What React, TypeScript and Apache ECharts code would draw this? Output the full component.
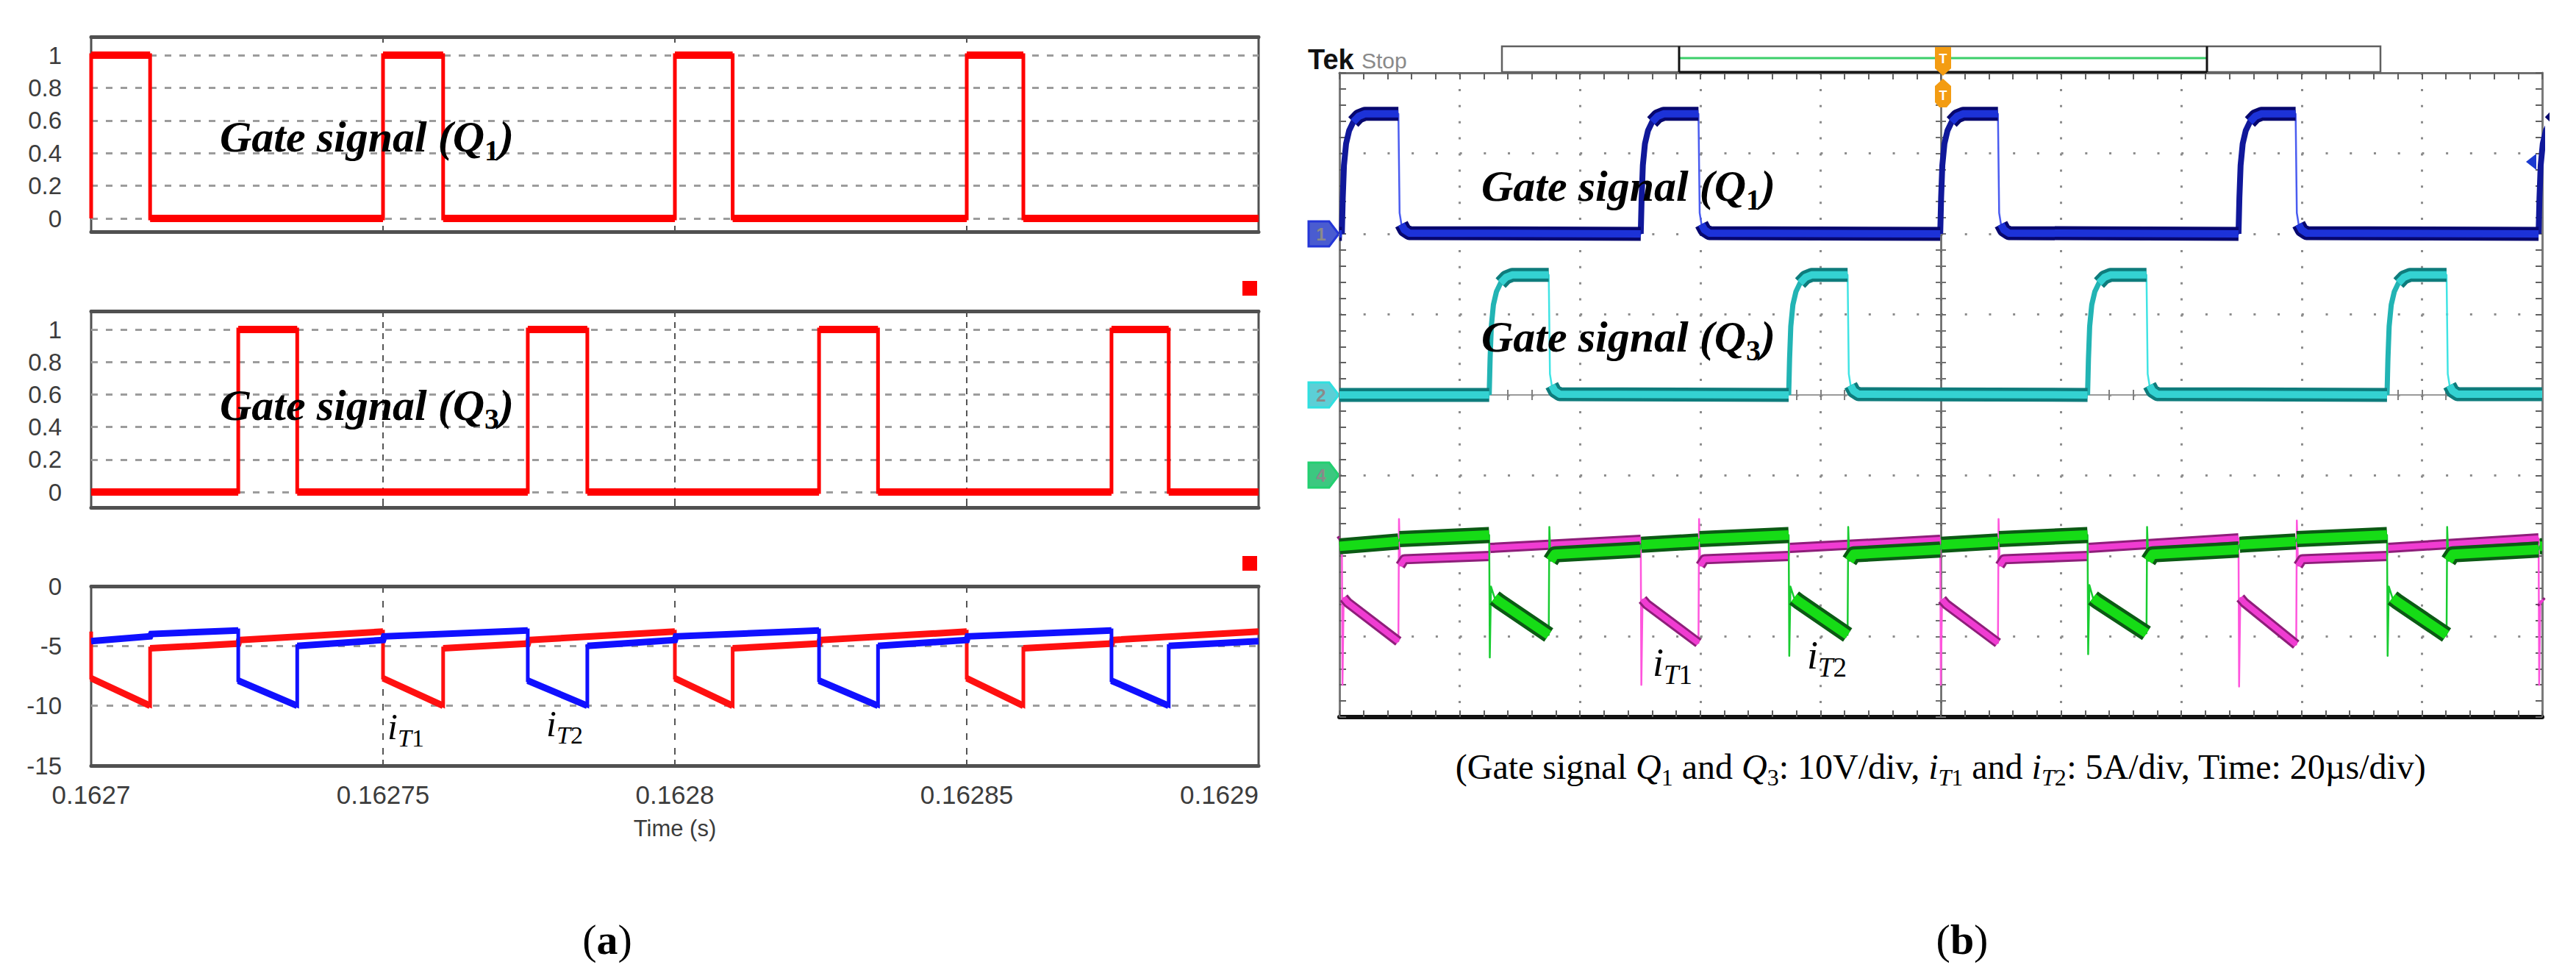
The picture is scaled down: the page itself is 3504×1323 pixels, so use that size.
import React, { useEffect, useRef } from 'react';
import * as echarts from 'echarts';

// ===================== DATA: (a) simulation =====================
const simTimeTicks = ['0.1627', '0.16275', '0.1628', '0.16285', '0.1629'];
const simTimeStart = 0.1627;
const simTimeEnd = 0.1629;
const simTimeStep = 0.00005;
const gateTicks = ['0', '0.2', '0.4', '0.6', '0.8', '1'];
const currentTicks = ['-15', '-10', '-5', '0'];

// gate on / off instants (s)
const q1SimOn = [0.1627, 0.16275, 0.1628, 0.16285];
const q1SimOff = [0.1627101, 0.1627603, 0.1628099, 0.1628597];
const q3SimOn = [0.1627252, 0.1627748, 0.1628247, 0.1628748];
const q3SimOff = [0.1627353, 0.162785, 0.1628348, 0.1628846];

// transformer currents (s, A)
const iT1Sim: [number, number][] = [
  [0.1627, -3.8], [0.1627, -7.7], [0.1627101, -10.0], [0.1627101, -5.2], [0.1627252, -4.8], [0.1627254, -4.5], [0.16275, -3.8],
  [0.16275, -7.7], [0.1627603, -10.0], [0.1627603, -5.2], [0.1627748, -4.8], [0.162775, -4.5], [0.1628, -3.8],
  [0.1628, -7.7], [0.1628099, -10.0], [0.1628099, -5.2], [0.1628247, -4.8], [0.1628249, -4.5], [0.16285, -3.8],
  [0.16285, -7.7], [0.1628597, -10.0], [0.1628597, -5.2], [0.1628748, -4.8], [0.162875, -4.5], [0.1629, -3.8],
];
const iT2Sim: [number, number][] = [
  [0.1627, -4.6], [0.1627101, -4.2], [0.1627103, -4.0], [0.1627252, -3.7], [0.1627252, -7.9], [0.1627353, -10.0], [0.1627353, -5.0], [0.16275, -4.5], [0.1627502, -4.2], [0.1627748, -3.7],
  [0.1627748, -7.9], [0.162785, -10.0], [0.162785, -5.0], [0.1628, -4.5], [0.1628002, -4.2], [0.1628247, -3.7],
  [0.1628247, -7.9], [0.1628348, -10.0], [0.1628348, -5.0], [0.16285, -4.5], [0.1628502, -4.2], [0.1628748, -3.7],
  [0.1628748, -7.9], [0.1628846, -10.0], [0.1628846, -5.0], [0.1629, -4.6],
];

// ===================== DATA: (b) oscilloscope =====================
const scopeTimeUs = [-100, 100]; // 20 µs/div
const ch1Range = [-60, 20]; // V, 10 V/div
const ch2Range = [-40, 40]; // V, 10 V/div
const currentRange = [-15, 25]; // A, 5 A/div

const q1ScopeOn = [-99.6, -49.9, -0.1, 49.5, 99.4];
const q1ScopeOff = [-90.2, -40.3, 9.5, 59.0];
const q3ScopeOn = [-75.1, -25.3, 24.4, 74.2];
const q3ScopeOff = [-65.2, -15.5, 34.2, 84.1];
// measured edge shapes: [µs after edge, V]
const gateRiseShape: [number, number][] = [[0, 0], [0.15, 4.5], [0.35, 8.5], [0.7, 11.2], [1.2, 12.8], [1.9, 13.9], [2.8, 14.6], [3.8, 14.9]];
const gateFallShape: [number, number][] = [[0, 14.9], [0.2, 2.6], [0.5, 1.2], [1.0, 0.5], [1.8, 0.1]];

const iT1Scope: [number, number][] = [
  [-100, -4.1], [-99.6, -4.0], [-99.5, -13.0], [-99.3, -7.6], [-98.6, -7.9], [-90.2, -10.3], [-90.1, -2.7], [-89.9, -5.6], [-89.2, -5.2], [-75.1, -5.0], [-74.9, -4.5], [-49.9, -4.0],
  [-49.8, -13.0], [-49.6, -7.7], [-48.9, -8.0], [-40.3, -10.4], [-40.2, -2.7], [-40.0, -5.6], [-39.3, -5.2], [-25.3, -5.0], [-25.1, -4.5], [-0.1, -4.0],
  [0.0, -13.0], [0.2, -7.7], [0.9, -8.0], [9.5, -10.4], [9.6, -2.7], [9.8, -5.6], [10.5, -5.2], [24.4, -5.0], [24.6, -4.5], [49.5, -3.9],
  [49.6, -13.1], [49.8, -7.6], [50.5, -7.9], [59.1, -10.5], [59.2, -2.8], [59.4, -5.6], [60.1, -5.2], [74.2, -5.0], [74.4, -4.5], [99.4, -3.9],
  [99.5, -13.0], [99.7, -7.8], [100, -7.9],
];
const iT2Scope: [number, number][] = [
  [-100, -4.4], [-90.2, -4.1], [-90.0, -3.95], [-75.1, -3.7],
  [-75.0, -11.3], [-74.8, -6.9], [-74.2, -7.6], [-73.5, -7.8], [-65.2, -9.9], [-65.1, -3.2], [-64.9, -5.3], [-64.2, -4.9], [-50.0, -4.6], [-49.8, -4.3], [-40.3, -4.1], [-40.1, -3.95], [-25.3, -3.7],
  [-25.2, -11.2], [-25.0, -6.9], [-24.4, -7.6], [-23.7, -7.8], [-15.5, -9.9], [-15.4, -3.2], [-15.2, -5.3], [-14.5, -4.9], [-0.1, -4.6], [0.1, -4.3], [9.5, -4.1], [9.7, -3.95], [24.4, -3.7],
  [24.5, -11.1], [24.7, -6.8], [25.3, -7.6], [26.0, -7.8], [34.2, -9.8], [34.3, -3.2], [34.5, -5.3], [35.2, -4.9], [49.5, -4.6], [49.7, -4.3], [59.0, -4.1], [59.2, -3.95], [74.2, -3.7],
  [74.3, -11.2], [74.5, -6.9], [75.1, -7.6], [75.8, -7.8], [84.1, -9.9], [84.2, -3.2], [84.4, -5.3], [85.1, -4.9], [99.4, -4.6], [99.6, -4.4], [100, -4.4],
];

// ===================== helpers =====================
type P = [number, number];
const sans = "'Liberation Sans', Arial, sans-serif";
const serif = "'Liberation Serif', 'Times New Roman', serif";

function squareWave(on: number[], off: number[], t0: number, t1: number): P[] {
  const ev = [...on.map((t) => [t, 1]), ...off.map((t) => [t, 0])].sort((a, b) => a[0] - b[0]);
  const pts: P[] = [[t0, 0]];
  let level = 0;
  for (const [t, l] of ev) {
    pts.push([t, level]);
    pts.push([t, l]);
    level = l;
  }
  pts.push([t1, level]);
  return pts;
}

function scopeGate(on: number[], off: number[], t0: number, t1: number): P[] {
  const ev = [...on.map((t) => ({ t, up: true })), ...off.map((t) => ({ t, up: false }))].sort((a, b) => a.t - b.t);
  const pts: P[] = [[t0, 0]];
  let level = 0;
  for (const e of ev) {
    const shape = e.up ? gateRiseShape : gateFallShape;
    for (const [dt, v] of shape) pts.push([e.t + dt, v]);
    level = shape[shape.length - 1][1];
  }
  if (pts[pts.length - 1][0] < t1) pts.push([t1, level]);
  return pts;
}

function pickSegments(pts: P[], keep: (a: P, b: P) => boolean): any[] {
  const out: any[] = [];
  let open = false;
  for (let i = 1; i < pts.length; i++) {
    const a = pts[i - 1];
    const b = pts[i];
    if (keep(a, b)) {
      if (!open) {
        if (out.length) out.push([a[0], '-']);
        out.push(a);
        open = true;
      }
      out.push(b);
    } else open = false;
  }
  return out;
}

const SCOPE = { left: 1822, top: 99, width: 1636, height: 876 };
const divX = SCOPE.width / 10;
const divY = SCOPE.height / 8;
const flatOnScope = (vPerDiv: number) => (a: P, b: P) => {
  const dx = (Math.abs(b[0] - a[0]) / 20) * divX;
  const dy = (Math.abs(b[1] - a[1]) / vPerDiv) * divY;
  return dx > 0 && dy <= 2 * dx;
};
const risingOnScope = (a: P, b: P) => b[1] > a[1] && b[0] > a[0];

function lineSeries(data: any[], xi: number, yi: number, color: string, width: number, z: number, clip = true, join = 'miter') {
  return {
    type: 'line',
    data,
    xAxisIndex: xi,
    yAxisIndex: yi,
    showSymbol: false,
    symbol: 'none',
    clip,
    z,
    silent: true,
    connectNulls: false,
    lineStyle: { color, width, cap: 'butt', join },
  };
}

function text(x: number, y: number, t: string, rich: any, z = 60) {
  return { type: 'text', x, y, z, silent: true, style: { text: t, rich, align: 'center', verticalAlign: 'middle' } };
}

// subscript tokens: drawn lower by giving them a top padding and bottom alignment
const subStyle = (size: number, italic: boolean, bold: boolean, mainSize: number) => ({
  fontFamily: serif,
  fontSize: size,
  fontStyle: italic ? 'italic' : 'normal',
  fontWeight: bold ? 'bold' : 'normal',
  fill: '#000',
  verticalAlign: 'bottom',
  padding: [Math.round(mainSize * 0.62), 0, 0, 0],
});
const gateRich = (size: number) => ({
  m: { fontFamily: serif, fontSize: size, fontStyle: 'italic', fontWeight: 'bold', fill: '#000', lineHeight: size },
  s: subStyle(Math.round(size * 0.66), false, true, size),
});
const currentRich = (size: number) => ({
  m: { fontFamily: serif, fontSize: size, fontStyle: 'italic', fill: '#000', lineHeight: size },
  t: subStyle(Math.round(size * 0.68), true, false, size),
  s: subStyle(Math.round(size * 0.68), false, false, size),
});

// ===================== component =====================
export default function App() {
  const ref = useRef<HTMLDivElement>(null);

  useEffect(() => {
    if (!ref.current) return;
    const chart = echarts.init(ref.current, null, { renderer: 'svg', width: 3504, height: 1323 });

    const simLeft = 124;
    const simWidth = 1588;
    const edge = '#505050';
    const labelColor = '#3c3c3c';

    const simX = { type: 'value', min: simTimeStart, max: simTimeEnd, interval: simTimeStep };
    const boxAxis = (gridIndex: number, position: string, dash: number[] | null, labels: boolean) => ({
      ...simX,
      gridIndex,
      position,
      axisLine: { show: true, onZero: false, lineStyle: { color: edge, width: 5 } },
      axisTick: { show: true, inside: true, length: 8, lineStyle: { color: edge, width: 2 } },
      axisLabel: labels
        ? {
            show: true,
            margin: 22,
            fontSize: 35,
            color: labelColor,
            fontFamily: sans,
            alignMaxLabel: 'right',
            formatter: (v: number) => simTimeTicks[Math.round((v - simTimeStart) / simTimeStep)] ?? '',
          }
        : { show: false },
      splitLine: dash ? { show: true, showMinLine: false, showMaxLine: false, lineStyle: { color: '#555', width: 2, type: dash } } : { show: false },
      ...(labels
        ? { name: 'Time (s)', nameLocation: 'middle', nameGap: 70, nameTextStyle: { fontSize: 31, color: labelColor, fontFamily: sans } }
        : {}),
    });
    const hiddenX = (gridIndex: number) => ({ ...simX, gridIndex, show: false, axisLine: { onZero: false }, splitLine: { show: false } });

    const scX = { type: 'value', min: scopeTimeUs[0], max: scopeTimeUs[1], interval: 20 };
    const tickStyle = (len: number, inside: boolean, color = '#606060') => ({
      axisTick: { show: true, inside, length: len, lineStyle: { color, width: 2 } },
      minorTick: { show: true, splitNumber: 5, length: len, lineStyle: { color, width: 2 } },
    });

    const xAxis: any[] = [
      boxAxis(0, 'bottom', null, false),
      boxAxis(0, 'top', null, false),
      hiddenX(1),
      boxAxis(2, 'bottom', [8, 7], false),
      boxAxis(2, 'top', null, false),
      hiddenX(3),
      boxAxis(4, 'bottom', [9, 11], true),
      boxAxis(4, 'top', null, false),
      {
        ...scX, gridIndex: 5, position: 'bottom',
        axisLine: { show: true, onZero: false, lineStyle: { color: '#111', width: 6 } },
        ...tickStyle(9, true),
        axisLabel: { show: false },
        splitLine: { show: true, lineStyle: { color: '#8c8c8c', width: 3, type: [3, divY / 5 - 3] } },
      },
      {
        ...scX, gridIndex: 5, position: 'top',
        axisLine: { show: true, onZero: false, lineStyle: { color: '#707070', width: 3 } },
        ...tickStyle(9, true),
        axisLabel: { show: false }, splitLine: { show: false },
      },
      {
        ...scX, gridIndex: 5, position: 'bottom', offset: -SCOPE.height / 2,
        axisLine: { show: true, onZero: false, lineStyle: { color: '#9a9a9a', width: 2 } },
        ...tickStyle(7, true, '#808080'),
        axisLabel: { show: false }, splitLine: { show: false },
      },
      {
        ...scX, gridIndex: 5, position: 'bottom', offset: -SCOPE.height / 2,
        axisLine: { show: false, onZero: false },
        ...tickStyle(7, false, '#808080'),
        axisLabel: { show: false }, splitLine: { show: false },
      },
    ];

    const gateY = (gridIndex: number) => ({
      type: 'value', gridIndex, min: 0, max: 1, interval: 0.2,
      axisLine: { show: false, onZero: false },
      axisTick: { show: false },
      axisLabel: { show: true, margin: 40, fontSize: 33, color: labelColor, fontFamily: sans, formatter: (v: number) => gateTicks[Math.round(v / 0.2)] ?? '' },
      splitLine: { show: true, lineStyle: { color: '#9c9c9c', width: 3, type: [9, 11] } },
    });
    const hiddenY = (gridIndex: number, range: number[] = [0, 1]) => ({
      type: 'value', gridIndex, min: range[0], max: range[1], show: false, axisLine: { onZero: false }, splitLine: { show: false },
    });
    const scDivY = { type: 'value', min: -4, max: 4, interval: 1 };

    const yAxis: any[] = [
      hiddenY(0),
      gateY(1),
      hiddenY(2),
      gateY(3),
      {
        type: 'value', gridIndex: 4, min: -15, max: 0, interval: 5,
        axisLine: { show: false, onZero: false },
        axisTick: { show: false },
        axisLabel: { show: true, margin: 40, fontSize: 33, color: labelColor, fontFamily: sans, formatter: (v: number) => currentTicks[Math.round((v + 15) / 5)] ?? '' },
        splitLine: { show: true, showMinLine: false, showMaxLine: false, lineStyle: { color: '#9c9c9c', width: 3, type: [9, 12] } },
      },
      {
        ...scDivY, gridIndex: 5, position: 'left',
        axisLine: { show: true, onZero: false, lineStyle: { color: '#7a7a7a', width: 3 } },
        ...tickStyle(9, true),
        axisLabel: { show: false },
        splitLine: { show: true, lineStyle: { color: '#8c8c8c', width: 3, type: [3, divX / 5 - 3] } },
      },
      {
        ...scDivY, gridIndex: 5, position: 'right',
        axisLine: { show: true, onZero: false, lineStyle: { color: '#7a7a7a', width: 3 } },
        ...tickStyle(9, true),
        axisLabel: { show: false }, splitLine: { show: false },
      },
      {
        ...scDivY, gridIndex: 5, position: 'left', offset: -SCOPE.width / 2,
        axisLine: { show: true, onZero: false, lineStyle: { color: '#606060', width: 2.5 } },
        ...tickStyle(7, true, '#707070'),
        axisLabel: { show: false }, splitLine: { show: false },
      },
      {
        ...scDivY, gridIndex: 5, position: 'left', offset: -SCOPE.width / 2,
        axisLine: { show: false, onZero: false },
        ...tickStyle(7, false, '#707070'),
        axisLabel: { show: false }, splitLine: { show: false },
      },
      hiddenY(5, ch1Range),
      hiddenY(5, ch2Range),
      hiddenY(5, currentRange),
    ];

    // ---- series ----
    const q1Sim = squareWave(q1SimOn, q1SimOff, simTimeStart, simTimeEnd);
    const q3Sim = squareWave(q3SimOn, q3SimOff, simTimeStart, simTimeEnd);
    const flatSim = (a: P, b: P) => a[1] === b[1] && b[0] > a[0];
    const nonVertical = (a: P, b: P) => b[0] > a[0];

    const q1Sc = scopeGate(q1ScopeOn, q1ScopeOff, scopeTimeUs[0], scopeTimeUs[1]);
    const q3Sc = scopeGate(q3ScopeOn, q3ScopeOff, scopeTimeUs[0], scopeTimeUs[1]);

    const series: any[] = [
      lineSeries(q1Sim, 2, 1, '#ff0000', 5, 5, false),
      lineSeries(pickSegments(q1Sim, flatSim), 2, 1, '#ff0000', 10, 6, false),
      lineSeries(q3Sim, 5, 3, '#ff0000', 5, 5, false),
      lineSeries(pickSegments(q3Sim, flatSim), 5, 3, '#ff0000', 10, 6, false),

      lineSeries(iT1Sim, 6, 4, '#ff1010', 5, 5),
      lineSeries(pickSegments(iT1Sim, nonVertical), 6, 4, '#ff1010', 9, 6),
      lineSeries(iT2Sim, 6, 4, '#1010ff', 5, 7),
      lineSeries(pickSegments(iT2Sim, nonVertical), 6, 4, '#1010ff', 9, 8),

      // scope
      lineSeries(q1Sc, 8, 9, '#4a5cf0', 2.5, 5, true, 'round'),
      lineSeries(pickSegments(q1Sc, risingOnScope), 8, 9, '#10189a', 8, 5, true, 'round'),
      lineSeries(pickSegments(q1Sc, flatOnScope(10)), 8, 9, '#07076e', 19, 6, true, 'round'),
      lineSeries(pickSegments(q1Sc, flatOnScope(10)), 8, 9, '#1c32d8', 10, 6, true, 'round'),

      lineSeries(q3Sc, 8, 10, '#40e4e4', 2.5, 5, true, 'round'),
      lineSeries(pickSegments(q3Sc, risingOnScope), 8, 10, '#22b4b4', 7, 5, true, 'round'),
      lineSeries(pickSegments(q3Sc, flatOnScope(10)), 8, 10, '#0e7c7c', 19, 6, true, 'round'),
      lineSeries(pickSegments(q3Sc, flatOnScope(10)), 8, 10, '#34d2d2', 10, 6, true, 'round'),

      lineSeries(iT1Scope, 8, 11, '#ff55dd', 2.5, 7, true, 'round'),
      lineSeries(pickSegments(iT1Scope, flatOnScope(5)), 8, 11, '#8e1e7a', 14, 7, true, 'round'),
      lineSeries(pickSegments(iT1Scope, flatOnScope(5)), 8, 11, '#f03cd2', 8, 7, true, 'round'),

      lineSeries(iT2Scope, 8, 11, '#18cc30', 2.5, 8, true, 'round'),
      lineSeries(pickSegments(iT2Scope, flatOnScope(5)), 8, 11, '#0b5a14', 22, 8, true, 'round'),
      lineSeries(pickSegments(iT2Scope, flatOnScope(5)), 8, 11, '#16dc16', 13, 8, true, 'round'),
    ];

    // ---- graphic decorations ----
    const marker = (y: number, fill: string, stroke: string, label: string) => ({
      type: 'group',
      z: 40,
      children: [
        {
          type: 'polygon',
          shape: { points: [[1780, y - 17], [1808, y - 17], [1821, y], [1808, y + 17], [1780, y + 17]] },
          style: { fill, stroke, lineWidth: 3 },
        },
        { type: 'text', x: 1797, y, style: { text: label, fill: '#8a8a8a', font: `bold 24px ${sans}`, align: 'center', verticalAlign: 'middle' } },
      ],
    });

    const capRich = {
      n: { fontFamily: serif, fontSize: 48, fill: '#000', lineHeight: 48 },
      q: { fontFamily: serif, fontSize: 48, fontStyle: 'italic', fill: '#000', lineHeight: 48 },
      s: subStyle(32, false, false, 48),
      st: subStyle(32, true, false, 48),
    };
    const panelRich = {
      n: { fontFamily: serif, fontSize: 58, fill: '#000', lineHeight: 58 },
      b: { fontFamily: serif, fontSize: 58, fontWeight: 'bold', fill: '#000', lineHeight: 58 },
    };

    const graphic: any[] = [
      // PSIM probe markers
      { type: 'rect', z: 40, shape: { x: 1690, y: 382, width: 20, height: 20 }, style: { fill: '#ff0000' } },
      { type: 'rect', z: 40, shape: { x: 1690, y: 756, width: 20, height: 20 }, style: { fill: '#ff0000' } },
      // (a) labels
      text(499, 186, '{m|Gate signal (Q}{s|1}{m|)}', gateRich(60)),
      text(499, 551, '{m|Gate signal (Q}{s|3}{m|)}', gateRich(60)),
      text(552, 988, '{m|i}{t|T}{s|1}', currentRich(50)),
      text(768, 984, '{m|i}{t|T}{s|2}', currentRich(50)),
      text(826, 1277, '{n|(}{b|a}{n|)}', panelRich),

      // Tek header
      { type: 'text', z: 40, x: 1779, y: 81, style: { text: 'Tek', fill: '#111', font: `bold 38px ${sans}`, align: 'left', verticalAlign: 'middle' } },
      { type: 'text', z: 40, x: 1852, y: 82, style: { text: 'Stop', fill: '#8a8a8a', font: `30px ${sans}`, align: 'left', verticalAlign: 'middle' } },
      { type: 'rect', z: 40, shape: { x: 2043, y: 63, width: 1195, height: 35 }, style: { fill: '#fff', stroke: '#606060', lineWidth: 2.5 } },
      { type: 'line', z: 41, shape: { x1: 2284, y1: 79, x2: 3002, y2: 79 }, style: { stroke: '#3ccf6a', lineWidth: 3 } },
      { type: 'line', z: 41, shape: { x1: 2284, y1: 63, x2: 2284, y2: 98 }, style: { stroke: '#111', lineWidth: 3 } },
      { type: 'line', z: 41, shape: { x1: 3002, y1: 63, x2: 3002, y2: 98 }, style: { stroke: '#111', lineWidth: 3 } },
      { type: 'line', z: 41, shape: { x1: 2284, y1: 98, x2: 3002, y2: 98 }, style: { stroke: '#111', lineWidth: 3 } },
      // trigger markers
      { type: 'polygon', z: 45, shape: { points: [[2632, 64], [2654, 64], [2654, 93], [2643, 103], [2632, 93]] }, style: { fill: '#f39c12' } },
      { type: 'text', z: 46, x: 2643, y: 80, style: { text: 'T', fill: '#fff', font: `bold 18px ${sans}`, align: 'center', verticalAlign: 'middle' } },
      { type: 'polygon', z: 45, shape: { points: [[2643, 107], [2654, 117], [2654, 139], [2648, 146], [2638, 146], [2632, 139], [2632, 117]] }, style: { fill: '#f39c12' } },
      { type: 'text', z: 46, x: 2643, y: 130, style: { text: 'T', fill: '#fff', font: `bold 18px ${sans}`, align: 'center', verticalAlign: 'middle' } },
      { type: 'polygon', z: 45, shape: { points: [[3436, 220], [3450, 209], [3450, 231]] }, style: { fill: '#1a3ad0' } },
      // channel markers
      marker(318, '#4a5cd0', '#2436d8', '1'),
      marker(537, '#5ccfd6', '#30e0e0', '2'),
      marker(646, '#3cc880', '#22d070', '4'),
      // (b) labels
      text(2215, 253, '{m|Gate signal (Q}{s|1}{m|)}', gateRich(60)),
      text(2215, 458, '{m|Gate signal (Q}{s|3}{m|)}', gateRich(60)),
      text(2275, 901, '{m|i}{t|T}{s|1}', currentRich(54)),
      text(2485, 891, '{m|i}{t|T}{s|2}', currentRich(54)),
      text(
        2640,
        1042,
        '{n|(Gate signal }{q|Q}{s|1}{n| and }{q|Q}{s|3}{n|: 10V/div, }{q|i}{st|T}{s|1}{n| and }{q|i}{st|T}{s|2}{n|: 5A/div, Time: 20µs/div)}',
        capRich
      ),
      text(2669, 1277, '{n|(}{b|b}{n|)}', panelRich),
    ];

    const option: any = {
      animation: false,
      backgroundColor: '#ffffff',
      grid: [
        { left: simLeft, top: 50, width: simWidth, height: 265, show: true, borderColor: edge, borderWidth: 3, backgroundColor: 'transparent', outerBoundsMode: 'none' },
        { left: simLeft, top: 75, width: simWidth, height: 222, show: false, outerBoundsMode: 'none' },
        { left: simLeft, top: 423, width: simWidth, height: 267, show: true, borderColor: edge, borderWidth: 3, backgroundColor: 'transparent', outerBoundsMode: 'none' },
        { left: simLeft, top: 448, width: simWidth, height: 221, show: false, outerBoundsMode: 'none' },
        { left: simLeft, top: 797, width: simWidth, height: 244, show: true, borderColor: edge, borderWidth: 3, backgroundColor: 'transparent', outerBoundsMode: 'none' },
        { left: SCOPE.left, top: SCOPE.top, width: SCOPE.width, height: SCOPE.height, show: false, outerBoundsMode: 'none' },
      ],
      xAxis,
      yAxis,
      series,
      graphic,
    };

    chart.setOption(option);
    return () => chart.dispose();
  }, []);

  return (
    <div
      ref={ref}
      style={{ position: 'absolute', left: 0, top: 0, width: 3504, height: 1323, background: '#ffffff' }}
    />
  );
}
